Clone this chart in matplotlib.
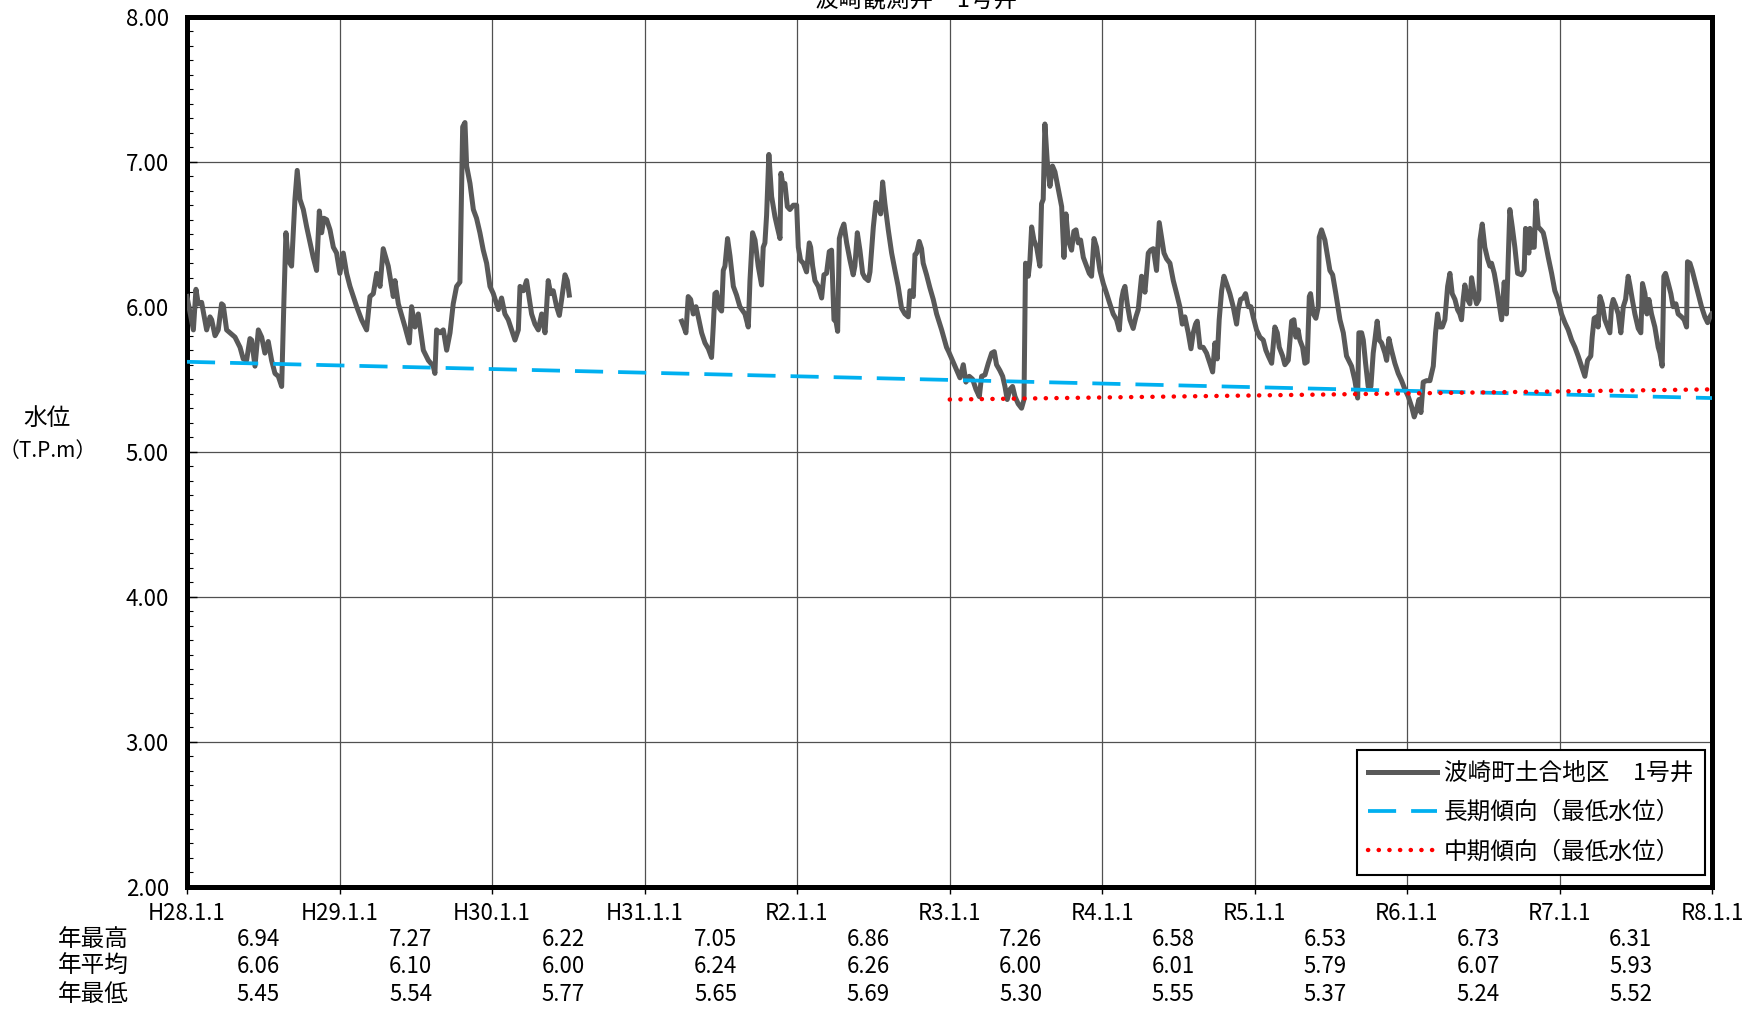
import numpy as np
import pandas as pd
import matplotlib
matplotlib.use('Agg')
import matplotlib.pyplot as plt
from matplotlib.ticker import MultipleLocator, FormatStrFormatter

plt.rcParams['font.family'] = ['Noto Sans CJK JP', 'DejaVu Sans']
NUM_FONT = ['Liberation Sans Narrow', 'Noto Sans CJK JP', 'DejaVu Sans']

# 観測水位（年は小数表記、T.P.m）
# 区間1: H28.1 ～ H30.7
obs1_year = [
    2016.000, 2016.042, 2016.059, 2016.074, 2016.096, 2016.129, 2016.151, 2016.162,
    2016.184, 2016.205, 2016.227, 2016.238, 2016.260, 2016.282, 2016.315, 2016.348,
    2016.369, 2016.391, 2016.413, 2016.424, 2016.446, 2016.468, 2016.490, 2016.511,
    2016.533, 2016.555, 2016.577, 2016.599, 2016.621, 2016.636, 2016.649, 2016.664,
    2016.686, 2016.708, 2016.723, 2016.741, 2016.763, 2016.785, 2016.828, 2016.850,
    2016.868, 2016.883, 2016.898, 2016.916, 2016.938, 2016.960, 2016.981, 2017.003,
    2017.025, 2017.047, 2017.069, 2017.091, 2017.113, 2017.145, 2017.178, 2017.200,
    2017.222, 2017.244, 2017.266, 2017.287, 2017.320, 2017.353, 2017.364, 2017.386,
    2017.430, 2017.458, 2017.473, 2017.495, 2017.517, 2017.550, 2017.583, 2017.615,
    2017.626, 2017.637, 2017.659, 2017.681, 2017.703, 2017.725, 2017.746, 2017.768,
    2017.790, 2017.808, 2017.823, 2017.834, 2017.856, 2017.878, 2017.899, 2017.921,
    2017.943, 2017.965, 2017.987, 2018.009, 2018.042, 2018.063, 2018.085, 2018.107,
    2018.151, 2018.173, 2018.184, 2018.206, 2018.227, 2018.260, 2018.282, 2018.304,
    2018.326, 2018.348, 2018.369, 2018.385, 2018.402, 2018.424, 2018.442, 2018.457,
    2018.479, 2018.494, 2018.507,
]
obs1_level = [
    6.07, 5.84, 6.12, 6.02, 6.03, 5.84, 5.93, 5.91,
    5.80, 5.84, 6.02, 6.01, 5.84, 5.82, 5.79, 5.72,
    5.64, 5.63, 5.78, 5.77, 5.59, 5.84, 5.79, 5.68,
    5.76, 5.63, 5.54, 5.52, 5.45, 6.05, 6.51, 6.32,
    6.28, 6.74, 6.94, 6.74, 6.67, 6.55, 6.34, 6.25,
    6.66, 6.51, 6.61, 6.60, 6.53, 6.41, 6.37, 6.23,
    6.37, 6.23, 6.14, 6.07, 6.00, 5.91, 5.84, 6.07,
    6.09, 6.23, 6.14, 6.40, 6.28, 6.07, 6.18, 6.02,
    5.86, 5.75, 6.00, 5.86, 5.95, 5.70, 5.63, 5.59,
    5.54, 5.84, 5.82, 5.84, 5.70, 5.82, 6.02, 6.14,
    6.17, 7.24, 7.27, 6.97, 6.85, 6.67, 6.61, 6.51,
    6.39, 6.30, 6.14, 6.09, 5.98, 6.06, 5.95, 5.91,
    5.77, 5.84, 6.14, 6.11, 6.18, 5.95, 5.88, 5.84,
    5.95, 5.82, 6.18, 6.09, 6.11, 6.00, 5.94, 6.05,
    6.22, 6.18, 6.08,
]

# 区間2: H31.4 ～ R7.12
obs2_year = [
    2019.244, 2019.259, 2019.272, 2019.287, 2019.303, 2019.320, 2019.338, 2019.353,
    2019.375, 2019.397, 2019.419, 2019.440, 2019.451, 2019.462, 2019.473, 2019.491,
    2019.506, 2019.517, 2019.528, 2019.545, 2019.561, 2019.583, 2019.604, 2019.626,
    2019.659, 2019.681, 2019.692, 2019.709, 2019.725, 2019.746, 2019.768, 2019.779,
    2019.790, 2019.801, 2019.816, 2019.834, 2019.856, 2019.871, 2019.889, 2019.895,
    2019.910, 2019.921, 2019.937, 2019.954, 2019.976, 2019.998, 2020.009, 2020.024,
    2020.042, 2020.063, 2020.081, 2020.090, 2020.103, 2020.118, 2020.140, 2020.162,
    2020.177, 2020.194, 2020.212, 2020.227, 2020.243, 2020.256, 2020.267, 2020.278,
    2020.293, 2020.308, 2020.326, 2020.348, 2020.369, 2020.380, 2020.396, 2020.413,
    2020.431, 2020.446, 2020.468, 2020.479, 2020.501, 2020.518, 2020.533, 2020.549,
    2020.562, 2020.577, 2020.599, 2020.621, 2020.643, 2020.664, 2020.686, 2020.708,
    2020.730, 2020.741, 2020.763, 2020.774, 2020.785, 2020.802, 2020.817, 2020.828,
    2020.850, 2020.872, 2020.894, 2020.916, 2020.949, 2020.981, 2020.995, 2021.036,
    2021.069, 2021.091, 2021.108, 2021.130, 2021.152, 2021.174, 2021.196, 2021.211,
    2021.233, 2021.255, 2021.277, 2021.294, 2021.309, 2021.331, 2021.349, 2021.364,
    2021.379, 2021.397, 2021.414, 2021.430, 2021.451, 2021.473, 2021.489, 2021.499,
    2021.517, 2021.528, 2021.539, 2021.554, 2021.572, 2021.593, 2021.604, 2021.615,
    2021.626, 2021.641, 2021.659, 2021.676, 2021.692, 2021.703, 2021.720, 2021.736,
    2021.751, 2021.764, 2021.779, 2021.801, 2021.816, 2021.830, 2021.845, 2021.860,
    2021.878, 2021.899, 2021.917, 2021.932, 2021.948, 2021.965, 2021.987, 2022.009,
    2022.031, 2022.052, 2022.074, 2022.096, 2022.114, 2022.129, 2022.140, 2022.151,
    2022.166, 2022.184, 2022.205, 2022.223, 2022.238, 2022.260, 2022.271, 2022.282,
    2022.304, 2022.319, 2022.337, 2022.358, 2022.376, 2022.391, 2022.407, 2022.424,
    2022.446, 2022.468, 2022.490, 2022.511, 2022.527, 2022.544, 2022.566, 2022.584,
    2022.599, 2022.614, 2022.625, 2022.643, 2022.664, 2022.686, 2022.708, 2022.726,
    2022.741, 2022.756, 2022.769, 2022.785, 2022.800, 2022.817, 2022.839, 2022.861,
    2022.883, 2022.894, 2022.909, 2022.927, 2022.942, 2022.960, 2022.977, 2022.992,
    2023.014, 2023.036, 2023.058, 2023.075, 2023.091, 2023.113, 2023.134, 2023.150,
    2023.163, 2023.185, 2023.200, 2023.222, 2023.244, 2023.259, 2023.272, 2023.287,
    2023.298, 2023.316, 2023.331, 2023.346, 2023.360, 2023.368, 2023.386, 2023.403,
    2023.419, 2023.425, 2023.440, 2023.462, 2023.473, 2023.495, 2023.513, 2023.534,
    2023.561, 2023.583, 2023.604, 2023.637, 2023.659, 2023.677, 2023.685, 2023.703,
    2023.714, 2023.729, 2023.746, 2023.764, 2023.779, 2023.790, 2023.805, 2023.819,
    2023.834, 2023.856, 2023.867, 2023.882, 2023.899, 2023.921, 2023.943, 2023.965,
    2023.987, 2024.009, 2024.031, 2024.048, 2024.063, 2024.079, 2024.092, 2024.107,
    2024.129, 2024.151, 2024.173, 2024.188, 2024.201, 2024.216, 2024.232, 2024.249,
    2024.267, 2024.282, 2024.297, 2024.315, 2024.332, 2024.347, 2024.358, 2024.369,
    2024.380, 2024.398, 2024.413, 2024.424, 2024.441, 2024.457, 2024.472, 2024.479,
    2024.494, 2024.511, 2024.529, 2024.544, 2024.555, 2024.573, 2024.588, 2024.605,
    2024.621, 2024.638, 2024.653, 2024.664, 2024.675, 2024.691, 2024.708, 2024.726,
    2024.752, 2024.769, 2024.778, 2024.791, 2024.800, 2024.807, 2024.818, 2024.835,
    2024.846, 2024.861, 2024.879, 2024.894, 2024.905, 2024.927, 2024.949, 2024.970,
    2024.992, 2025.014, 2025.036, 2025.058, 2025.080, 2025.102, 2025.123, 2025.145,
    2025.167, 2025.185, 2025.206, 2025.215, 2025.228, 2025.244, 2025.254, 2025.266,
    2025.281, 2025.298, 2025.320, 2025.331, 2025.342, 2025.353, 2025.368, 2025.386,
    2025.403, 2025.419, 2025.434, 2025.451, 2025.462, 2025.478, 2025.495, 2025.517,
    2025.534, 2025.545, 2025.561, 2025.574, 2025.587, 2025.604, 2025.626, 2025.648,
    2025.659, 2025.674, 2025.685, 2025.696, 2025.714, 2025.731, 2025.746, 2025.764,
    2025.779, 2025.801, 2025.818, 2025.834, 2025.840, 2025.856, 2025.871, 2025.888,
    2025.910, 2025.932, 2025.954, 2025.972, 2025.987, 2025.998,
]
obs2_level = [
    5.90, 5.86, 5.82, 6.07, 6.05, 5.95, 6.00, 5.93,
    5.82, 5.75, 5.71, 5.65, 5.86, 6.09, 6.10, 5.99,
    5.97, 6.25, 6.28, 6.47, 6.35, 6.14, 6.08, 6.00,
    5.95, 5.86, 6.18, 6.51, 6.46, 6.28, 6.15, 6.41,
    6.44, 6.63, 7.05, 6.76, 6.62, 6.55, 6.47, 6.92,
    6.83, 6.85, 6.69, 6.67, 6.70, 6.70, 6.41, 6.32,
    6.30, 6.24, 6.44, 6.41, 6.28, 6.18, 6.14, 6.06,
    6.22, 6.23, 6.38, 6.39, 5.91, 5.90, 5.83, 6.47,
    6.53, 6.57, 6.44, 6.32, 6.22, 6.28, 6.51, 6.39,
    6.23, 6.20, 6.18, 6.24, 6.55, 6.72, 6.69, 6.64,
    6.86, 6.71, 6.53, 6.37, 6.25, 6.14, 5.99, 5.95,
    5.93, 6.11, 6.07, 6.36, 6.37, 6.45, 6.40, 6.30,
    6.22, 6.13, 6.05, 5.95, 5.84, 5.72, 5.69, 5.59,
    5.51, 5.60, 5.48, 5.52, 5.50, 5.43, 5.38, 5.52,
    5.53, 5.61, 5.68, 5.69, 5.60, 5.56, 5.52, 5.45,
    5.36, 5.43, 5.45, 5.38, 5.33, 5.30, 5.36, 6.30,
    6.21, 6.32, 6.55, 6.46, 6.41, 6.28, 6.71, 6.74,
    7.26, 7.01, 6.83, 6.97, 6.93, 6.87, 6.78, 6.69,
    6.34, 6.64, 6.46, 6.39, 6.52, 6.53, 6.44, 6.46,
    6.34, 6.28, 6.23, 6.21, 6.47, 6.41, 6.25, 6.16,
    6.09, 6.02, 5.95, 5.91, 5.84, 6.05, 6.11, 6.14,
    6.02, 5.91, 5.85, 5.93, 5.98, 6.21, 6.18, 6.10,
    6.37, 6.39, 6.40, 6.25, 6.58, 6.48, 6.37, 6.33,
    6.30, 6.18, 6.09, 6.00, 5.88, 5.93, 5.82, 5.71,
    5.82, 5.88, 5.90, 5.72, 5.72, 5.68, 5.61, 5.55,
    5.75, 5.64, 5.91, 6.11, 6.21, 6.16, 6.09, 6.00,
    5.88, 5.98, 6.05, 6.06, 6.09, 6.00, 6.00, 5.93,
    5.84, 5.79, 5.77, 5.70, 5.66, 5.61, 5.86, 5.82,
    5.72, 5.66, 5.60, 5.63, 5.90, 5.91, 5.79, 5.84,
    5.77, 5.72, 5.61, 5.62, 6.07, 6.09, 5.95, 5.92,
    6.00, 6.48, 6.53, 6.46, 6.39, 6.25, 6.22, 6.09,
    5.91, 5.82, 5.66, 5.59, 5.49, 5.37, 5.82, 5.82,
    5.77, 5.61, 5.45, 5.45, 5.68, 5.77, 5.90, 5.77,
    5.75, 5.68, 5.63, 5.78, 5.70, 5.61, 5.54, 5.49,
    5.43, 5.38, 5.31, 5.24, 5.29, 5.36, 5.27, 5.48,
    5.49, 5.49, 5.59, 5.82, 5.95, 5.86, 5.86, 5.91,
    6.14, 6.23, 6.09, 6.05, 5.98, 5.95, 5.91, 6.05,
    6.15, 6.05, 6.02, 6.20, 6.09, 6.02, 6.05, 6.46,
    6.57, 6.41, 6.33, 6.28, 6.30, 6.23, 6.14, 6.02,
    5.91, 6.17, 5.95, 6.32, 6.67, 6.55, 6.41, 6.23,
    6.22, 6.25, 6.54, 6.41, 6.37, 6.54, 6.41, 6.41,
    6.73, 6.55, 6.53, 6.51, 6.46, 6.34, 6.23, 6.11,
    6.05, 5.95, 5.89, 5.84, 5.77, 5.72, 5.66, 5.59,
    5.52, 5.63, 5.66, 5.79, 5.92, 5.93, 5.86, 6.07,
    6.02, 5.91, 5.85, 5.82, 6.00, 6.05, 6.01, 5.95,
    5.82, 6.00, 6.05, 6.21, 6.15, 6.05, 5.95, 5.85,
    5.82, 6.16, 6.09, 5.95, 6.05, 5.95, 5.86, 5.72,
    5.68, 5.59, 6.21, 6.23, 6.16, 6.09, 6.00, 6.02,
    5.95, 5.93, 5.91, 5.86, 6.31, 6.30, 6.25, 6.18,
    6.09, 6.00, 5.93, 5.89, 5.93, 5.95,
]

# 傾向線（最低水位）
long_dates = ['2016-01-01', '2026-01-01']
long_levels = [5.62, 5.37]
mid_dates = ['2021-01-01', '2026-01-01']
mid_levels = [5.36, 5.43]

# 年統計
stat_years = list(range(2016, 2026))
year_max = [6.94, 7.27, 6.22, 7.05, 6.86, 7.26, 6.58, 6.53, 6.73, 6.31]
year_mean = [6.06, 6.10, 6.00, 6.24, 6.26, 6.00, 6.01, 5.79, 6.07, 5.93]
year_min = [5.45, 5.54, 5.77, 5.65, 5.69, 5.30, 5.55, 5.37, 5.24, 5.52]

tick_years = list(range(2016, 2027))
tick_labels = ['H28.1.1', 'H29.1.1', 'H30.1.1', 'H31.1.1', 'R2.1.1', 'R3.1.1',
               'R4.1.1', 'R5.1.1', 'R6.1.1', 'R7.1.1', 'R8.1.1']


def to_dates(years):
    base = pd.Timestamp('2016-01-01')
    return base + pd.to_timedelta((np.asarray(years) - 2016) * 365.25, unit='D')


fig = plt.figure(figsize=(17.49, 10.11), dpi=100)
ax = fig.add_axes([0.1069, 0.1229, 0.872, 0.8606])

ax.plot(to_dates(obs1_year), obs1_level, color='#595959', lw=3.6,
        label='波崎町土合地区　1号井', zorder=3)
ax.plot(to_dates(obs2_year), obs2_level, color='#595959', lw=3.6, zorder=3)
ax.plot(pd.to_datetime(long_dates), long_levels, color='#00B0F0', lw=2.7,
        dashes=(7.5, 4), label='長期傾向（最低水位）', zorder=4)
ax.plot(pd.to_datetime(mid_dates), mid_levels, color='#FF0000', lw=3.2,
        dashes=(0.05, 2.35), dash_capstyle='round', label='中期傾向（最低水位）', zorder=5)

ax.set_xlim(pd.Timestamp('2016-01-01'), pd.Timestamp('2026-01-01'))
ax.set_ylim(2.0, 8.0)
ax.yaxis.set_major_locator(MultipleLocator(1.0))
ax.yaxis.set_minor_locator(MultipleLocator(0.1))
ax.yaxis.set_major_formatter(FormatStrFormatter('%.2f'))

tick_pos = [pd.Timestamp(f'{y}-01-01') for y in tick_years]
ax.set_xticks(tick_pos)
ax.set_xticklabels(tick_labels)

ax.grid(True, which='major', color='#505050', lw=0.9)
ax.tick_params(axis='y', which='major', direction='in', length=7, width=1, pad=13, labelsize=16)
ax.tick_params(axis='y', which='minor', direction='in', length=4, width=0.8)
ax.tick_params(axis='x', direction='out', length=5, width=1, pad=6, labelsize=16)
for lbl in ax.get_xticklabels() + ax.get_yticklabels():
    lbl.set_family(NUM_FONT)
for s in ax.spines.values():
    s.set_linewidth(3.6)
    s.set_color('black')

# 年統計の表
row_names = ['年最高', '年平均', '年最低']
row_vals = [year_max, year_mean, year_min]
row_y = [-0.0605, -0.0913, -0.1233]
xt = ax.get_xaxis_transform()
for name, vals, y in zip(row_names, row_vals, row_y):
    fig.text(0.033, (0.1229 + y * 0.8606), name, fontsize=17, ha='left', va='center')
    for yr, v in zip(stat_years, vals):
        ax.text(pd.Timestamp(f'{yr}-06-20'), y, f'{v:.2f}', transform=xt,
                ha='center', va='center', fontsize=16, family=NUM_FONT, clip_on=False)

fig.text(0.0268, 1 - 418 / 1011, '水位', fontsize=17, ha='center', va='center')
fig.text(0.0275, 1 - 451 / 1011, '（T.P.m）', fontsize=15, ha='center', va='center')
fig.text(0.524, 0.999, '波崎観測井　1号井', fontsize=17, ha='center', va='center')

leg = ax.legend(loc='lower right', bbox_to_anchor=(0.9954, 0.0134), borderaxespad=0,
                fontsize=17, fancybox=False, edgecolor='black', framealpha=1,
                handlelength=2.9, labelspacing=0.68, borderpad=0.5, handletextpad=0.3)
leg.get_frame().set_linewidth(1.5)

fig.savefig('out.png', dpi=100)
